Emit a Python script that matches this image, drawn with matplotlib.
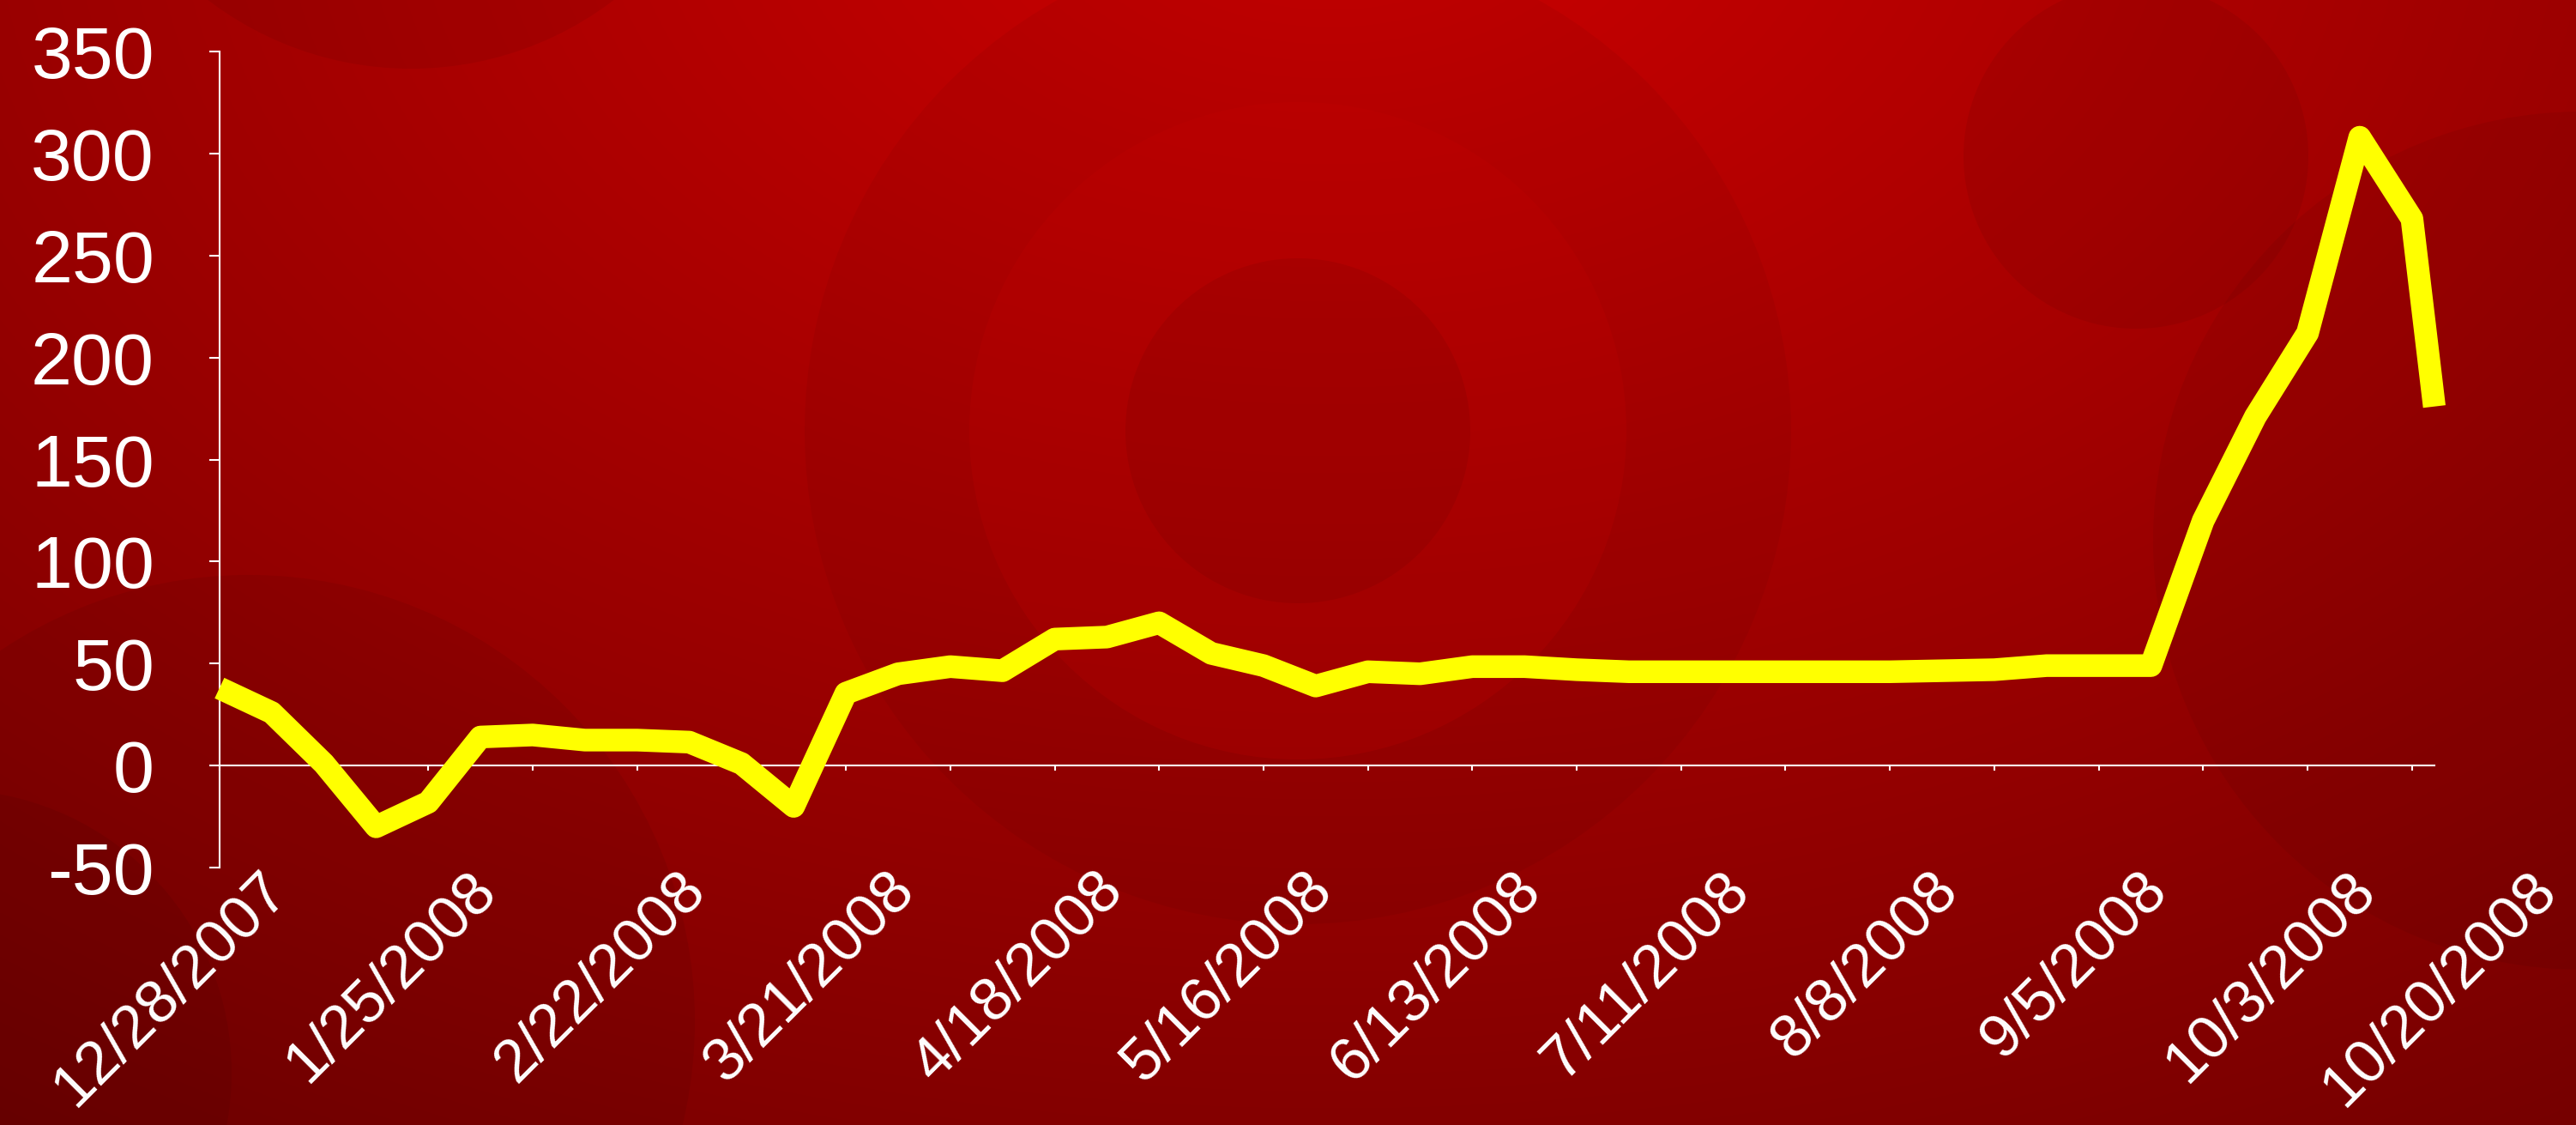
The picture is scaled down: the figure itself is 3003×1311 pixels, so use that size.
import matplotlib
matplotlib.use("Agg")
import matplotlib.pyplot as plt
from matplotlib.patches import Circle
from matplotlib.transforms import ScaledTranslation
import numpy as np
import pandas as pd

plt.rcParams['font.family'] = ['Liberation Sans', 'DejaVu Sans']
plt.rcParams['axes.unicode_minus'] = False

# weekly values, last point is a Monday
week_dates = ["2007-12-28", "2008-01-04", "2008-01-11", "2008-01-18", "2008-01-25",
              "2008-02-01", "2008-02-08", "2008-02-15", "2008-02-22", "2008-02-29",
              "2008-03-07", "2008-03-14", "2008-03-21", "2008-03-28", "2008-04-04",
              "2008-04-11", "2008-04-18", "2008-04-25", "2008-05-02", "2008-05-09",
              "2008-05-16", "2008-05-23", "2008-05-30", "2008-06-06", "2008-06-13",
              "2008-06-20", "2008-06-27", "2008-07-04", "2008-07-11", "2008-07-18",
              "2008-07-25", "2008-08-01", "2008-08-08", "2008-08-15", "2008-08-22",
              "2008-08-29", "2008-09-05", "2008-09-12", "2008-09-19", "2008-09-26",
              "2008-10-03", "2008-10-10", "2008-10-17", "2008-10-20"]
spread = [38, 26, 1, -30, -18,
          14, 15, 12.5, 12.5, 11.5,
          1, -20, 35.5, 45, 48.5,
          46.5, 62, 63, 70, 55,
          49, 39, 46, 45, 48.5,
          48.5, 47, 46, 46, 46,
          46, 46, 46, 46.5, 47,
          49, 49, 49, 120, 171,
          212, 308, 268, 176]

label_dates = ["2007-12-28", "2008-01-25", "2008-02-22", "2008-03-21", "2008-04-18",
               "2008-05-16", "2008-06-13", "2008-07-11", "2008-08-08", "2008-09-05",
               "2008-10-03", "2008-10-20"]
label_text = ["12/28/2007", "1/25/2008", "2/22/2008", "3/21/2008", "4/18/2008",
              "5/16/2008", "6/13/2008", "7/11/2008", "8/8/2008", "9/5/2008",
              "10/3/2008", "10/20/2008"]
y_ticks = [-50, 0, 50, 100, 150, 200, 250, 300, 350]

dates = pd.to_datetime(week_dates)
tick_dates = pd.date_range("2007-12-28", "2008-10-17", freq="14D")

W, H = 3003, 1311
fig = plt.figure(figsize=(W / 100, H / 100), dpi=100)

# background: red radial gradient + soft circles
bg = fig.add_axes([0, 0, 1, 1])
yy, xx = np.mgrid[0:H:3, 0:W:3]
d = np.hypot((xx - 1550) / 2600.0, (yy + 150) / 1700.0)
r = np.clip(205 - 85 * d, 100, 205) / 255.0
img = np.dstack([r, np.zeros_like(r), np.zeros_like(r)])
bg.imshow(img, extent=[0, W, H, 0], aspect='auto', interpolation='bilinear')
circles = [
    ((1513, 502), 575, 'black', 0.045),
    ((1513, 502), 383, '#c80000', 0.2),
    ((1513, 502), 201, 'black', 0.06),
    ((2490, 182), 201, 'black', 0.06),
    ((479, -310), 390, 'black', 0.06),
    ((290, 1190), 520, 'black', 0.06),
    ((3010, 630), 500, 'black', 0.05),
    ((-60, 1250), 330, 'black', 0.06),
]
for c, rad, col, a in circles:
    bg.add_patch(Circle(c, rad, color=col, alpha=a, lw=0))
bg.set_xlim(0, W)
bg.set_ylim(H, 0)
bg.axis('off')

ax = fig.add_axes([0.0852, 0.2288, 0.945 - 0.0852, 0.9542 - 0.2288])
ax.patch.set_alpha(0)

ax.plot(dates, spread, color='#FFFF00', lw=19, solid_joinstyle='round',
        solid_capstyle='butt', zorder=3, clip_on=False)

ax.set_xlim(dates[0], dates[-1])
ax.set_ylim(-50, 350)
ax.set_yticks(y_ticks)
ax.set_xticks(tick_dates)

for s in ['top', 'right']:
    ax.spines[s].set_visible(False)
ax.spines['left'].set_color('white')
ax.spines['left'].set_linewidth(1.5)
ax.spines['bottom'].set_position(('data', 0))
ax.spines['bottom'].set_color('white')
ax.spines['bottom'].set_linewidth(1.5)

ax.tick_params(axis='x', length=4.3, width=1.5, color='white', labelbottom=False)
ax.tick_params(axis='y', length=8.6, width=1.5, colors='white', labelsize=62, pad=46)

for i, (dt, txt) in enumerate(zip(label_dates, label_text)):
    dx = 50 if i < len(label_text) - 1 else 95
    off = ScaledTranslation(dx / 72, -12 / 72, fig.dpi_scale_trans)
    ax.text(pd.Timestamp(dt), -50, txt, rotation=45, rotation_mode='anchor',
            ha='right', va='center', color='white', fontsize=51,
            transform=ax.transData + off, clip_on=False)

fig.savefig("out.png", dpi=100)
